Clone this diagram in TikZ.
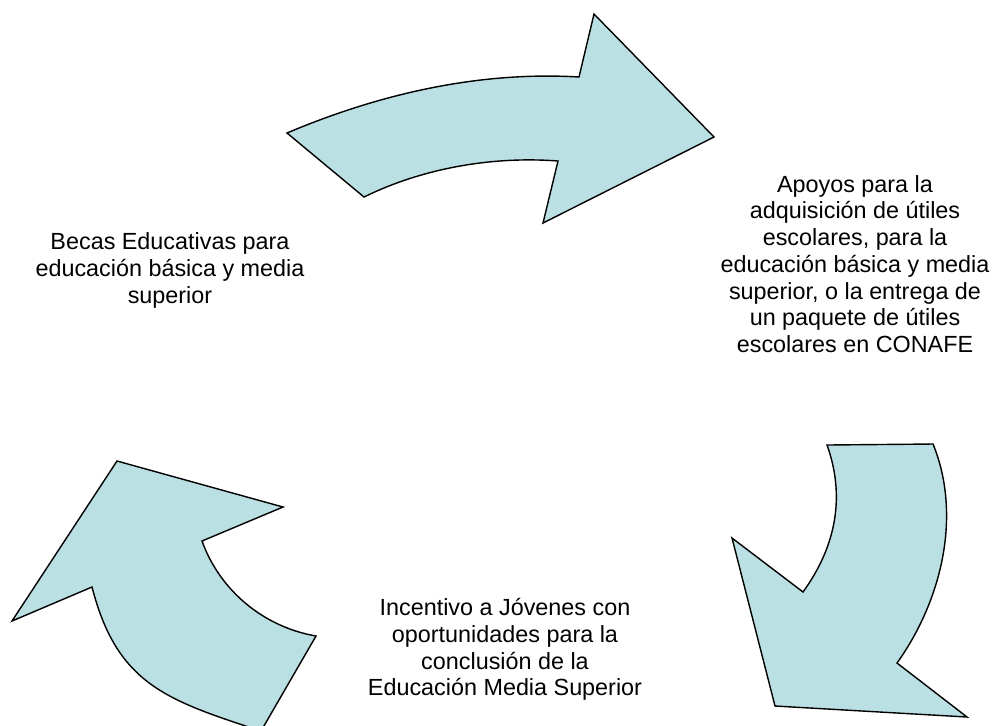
\documentclass[tikz,border=0pt]{standalone}
\usepackage{fontspec}
\setmainfont{Liberation Sans}
\definecolor{arrowfill}{RGB}{187,224,227}
\tikzset{
  cyclearrow/.style={draw=black, fill=arrowfill, line width=0.8pt, line join=miter},
  steptext/.style={align=center, inner sep=0pt, font=\fontsize{13.3}{15.2}\selectfont}
}
\begin{document}
\begin{tikzpicture}[x=0.02cm, y=-0.02cm]
\useasboundingbox (0,0) rectangle (996,725);
\clip (0,0) rectangle (996,725);

% top arrow
\draw[cyclearrow] (287,133) .. controls (379,94) and (479,71) .. (579,77)
  -- (594,14) -- (714,137) -- (543,223) -- (558,161)
  .. controls (493,156) and (423,168) .. (364,197) -- cycle;

% right arrow
\draw[cyclearrow] (827,445) -- (933,444)
  .. controls (962,515) and (942,600) .. (897,663)
  -- (967,717) -- (775,706) -- (732,538) -- (803,592)
  .. controls (837,545) and (845,495) .. (827,445) -- cycle;

% left arrow
\draw[cyclearrow] (117,461) -- (283,507) -- (202,541)
  .. controls (220,591) and (264,627) .. (316,636)
  -- (261,731)
  .. controls (166,700) and (117,684) .. (92,587)
  -- (12,621) -- cycle;

\node[steptext] (becas) at (170,270.5) {Becas Educativas para\\educación básica y media\\superior};
\node[steptext] (utiles) at (855,264) {Apoyos para la\\adquisición de útiles\\escolares, para la\\educación básica y media\\superior, o la entrega de\\un paquete de útiles\\escolares en CONAFE};
\node[steptext] (jovenes) at (505,649.5) {Incentivo a Jóvenes con\\oportunidades para la\\conclusión de la\\Educación Media Superior};

\end{tikzpicture}
\end{document}
